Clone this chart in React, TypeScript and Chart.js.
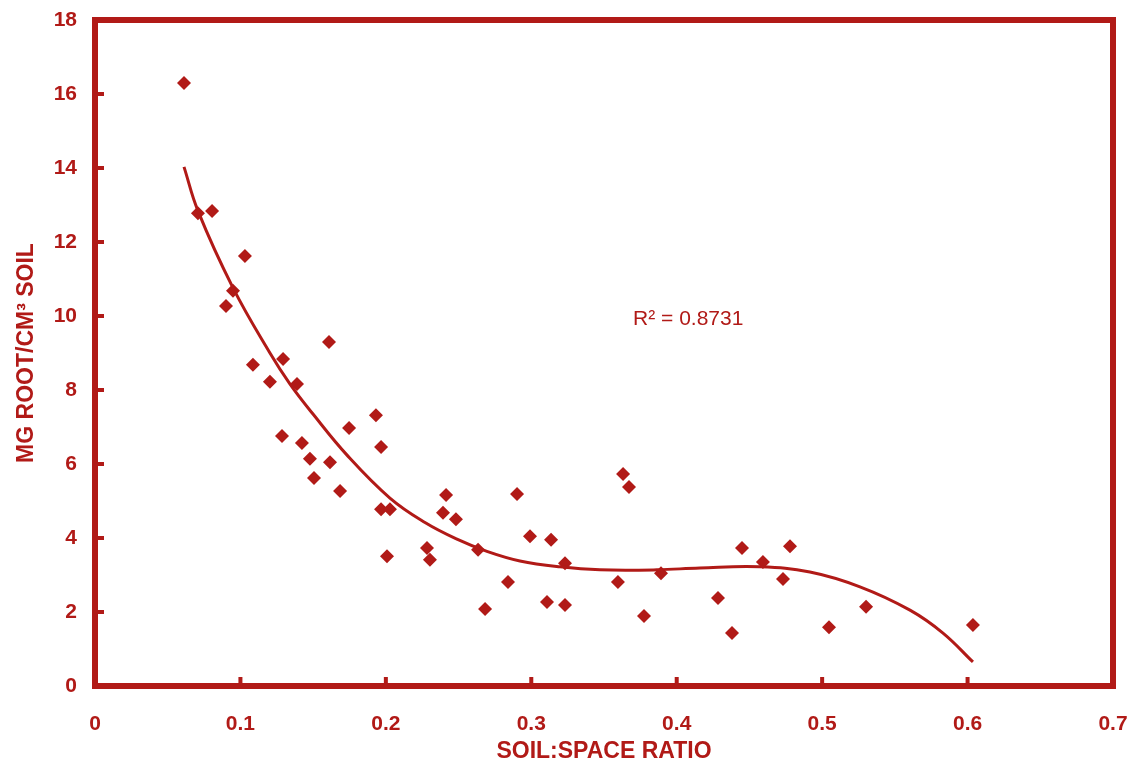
import React, { useEffect, useRef } from "react";
import { Chart, registerables } from "chart.js";

Chart.register(...registerables);

const RED = "#b11a17";

// Observed scatter points (soil:space ratio, mg root/cm3 soil)
const ratioX = [
  0.0612, 0.0708, 0.0805, 0.1031, 0.0949, 0.0901, 0.1086, 0.1293, 0.1203, 0.1389,
  0.1609, 0.1286, 0.1423, 0.1478, 0.1506, 0.1616, 0.1685, 0.1747, 0.1932, 0.1967,
  0.1967, 0.2028, 0.2008, 0.2283, 0.2303, 0.2393, 0.2414, 0.2482, 0.2634, 0.2682,
  0.284, 0.2902, 0.2991, 0.3136, 0.3108, 0.3232, 0.3232, 0.3596, 0.3631, 0.3672,
  0.3775, 0.3892, 0.4284, 0.438, 0.4449, 0.4593, 0.4731, 0.4779, 0.5047, 0.5302,
  0.6037,
];
const rootY = [
  16.3, 12.78, 12.84, 11.62, 10.68, 10.27, 8.68, 8.84, 8.22, 8.16,
  9.3, 6.76, 6.57, 6.14, 5.62, 6.05, 5.27, 6.97, 7.32, 6.46,
  4.78, 4.78, 3.51, 3.73, 3.41, 4.68, 5.16, 4.51, 3.68, 2.08,
  2.81, 5.19, 4.05, 3.95, 2.27, 3.32, 2.19, 2.81, 5.73, 5.38,
  1.89, 3.05, 2.38, 1.43, 3.73, 3.35, 2.89, 3.78, 1.59, 2.14,
  1.65,
];

// Fitted trend curve
const fitX = [
  0.0612, 0.0708, 0.0949, 0.1203, 0.1341, 0.1499, 0.1733, 0.2028, 0.2269, 0.2489,
  0.2695, 0.2922, 0.3197, 0.3472, 0.3864, 0.416, 0.4573, 0.4916, 0.526, 0.5604,
  0.5831, 0.6037,
];
const fitY = [
  14.03, 12.84, 10.76, 9.0, 8.16, 7.35, 6.24, 5.08, 4.42, 3.97,
  3.64, 3.38, 3.22, 3.14, 3.14, 3.19, 3.22, 3.08, 2.68, 2.05,
  1.43, 0.65,
];

const xTicksMin = 0;
const xTicksMax = 0.7;
const xStep = 0.1;
const yTicksMin = 0;
const yTicksMax = 18;
const yStep = 2;

const R2_TEXT = "R\u00B2 = 0.8731";
const X_TITLE = "SOIL:SPACE RATIO";
const Y_TITLE = "MG ROOT/CM\u00B3 SOIL";

const framePlugin = {
  id: "frame",
  afterDraw(chart: any) {
    const { ctx, chartArea } = chart;
    const xs = chart.scales.x;
    const ys = chart.scales.y;
    ctx.save();
    ctx.strokeStyle = RED;
    ctx.lineWidth = 6;
    ctx.strokeRect(
      chartArea.left,
      chartArea.top,
      chartArea.right - chartArea.left,
      chartArea.bottom - chartArea.top
    );
    ctx.lineWidth = 4;
    ctx.beginPath();
    ys.ticks.forEach((t: any) => {
      const py = ys.getPixelForValue(t.value);
      ctx.moveTo(chartArea.left, py);
      ctx.lineTo(chartArea.left + 9, py);
    });
    xs.ticks.forEach((t: any) => {
      const px = xs.getPixelForValue(t.value);
      ctx.moveTo(px, chartArea.bottom);
      ctx.lineTo(px, chartArea.bottom - 9);
    });
    ctx.stroke();
    // R² annotation
    ctx.fillStyle = RED;
    ctx.font = '21px "Liberation Sans", Arial, sans-serif';
    ctx.textAlign = "left";
    ctx.textBaseline = "middle";
    ctx.fillText(R2_TEXT, xs.getPixelForValue(0.37), ys.getPixelForValue(9.9));
    ctx.restore();
  },
};

const noPad = (s: any) => {
  s.paddingLeft = 0;
  s.paddingRight = 0;
  s.paddingTop = 0;
  s.paddingBottom = 0;
};

export default function App() {
  const ref = useRef<HTMLCanvasElement | null>(null);
  useEffect(() => {
    if (!ref.current) return;
    Chart.defaults.font.family = '"Liberation Sans", Arial, sans-serif';
    const chart = new Chart(ref.current, {
      type: "scatter",
      data: {
        datasets: [
          {
            label: "fit",
            data: fitX.map((x, i) => ({ x, y: fitY[i] })),
            showLine: true,
            borderColor: RED,
            borderWidth: 3,
            pointRadius: 0,
            tension: 0.4,
            fill: false,
          } as any,
          {
            label: "data",
            data: ratioX.map((x, i) => ({ x, y: rootY[i] })),
            pointStyle: "rectRot",
            pointRadius: 7,
            backgroundColor: RED,
            borderColor: RED,
            borderWidth: 0,
          } as any,
        ],
      },
      options: {
        animation: false,
        responsive: false,
        layout: { padding: { top: 20, right: 22, left: 0, bottom: 0 } },
        plugins: { legend: { display: false }, tooltip: { enabled: false } },
        scales: {
          x: {
            type: "linear",
            min: xTicksMin,
            max: xTicksMax,
            afterFit: (s: any) => {
              s.height = 79;
              noPad(s);
            },
            ticks: {
              stepSize: xStep,
              color: RED,
              padding: 26,
              font: { size: 21, weight: "bold" },
              callback: (v: any) => String(Number(Number(v).toFixed(1))),
            },
            grid: { display: false, drawTicks: false },
            border: { display: false },
            title: {
              display: true,
              text: X_TITLE,
              color: RED,
              font: { size: 23, weight: "bold" },
              padding: { top: 0, bottom: 0 },
            },
          },
          y: {
            type: "linear",
            min: yTicksMin,
            max: yTicksMax,
            afterFit: (s: any) => {
              s.width = 95;
              noPad(s);
            },
            ticks: {
              stepSize: yStep,
              color: RED,
              padding: 18,
              font: { size: 21, weight: "bold" },
            },
            grid: { display: false, drawTicks: false },
            border: { display: false },
            title: {
              display: true,
              text: Y_TITLE,
              color: RED,
              font: { size: 23, weight: "bold" },
              padding: { top: 13, bottom: 13 },
            },
          },
        },
      } as any,
      plugins: [framePlugin],
    });
    return () => chart.destroy();
  }, []);
  return (
    <div style={{ position: "fixed", left: 0, top: 0, width: 1135, height: 765, background: "#fff" }}>
      <canvas ref={ref} width={1135} height={765} />
    </div>
  );
}
